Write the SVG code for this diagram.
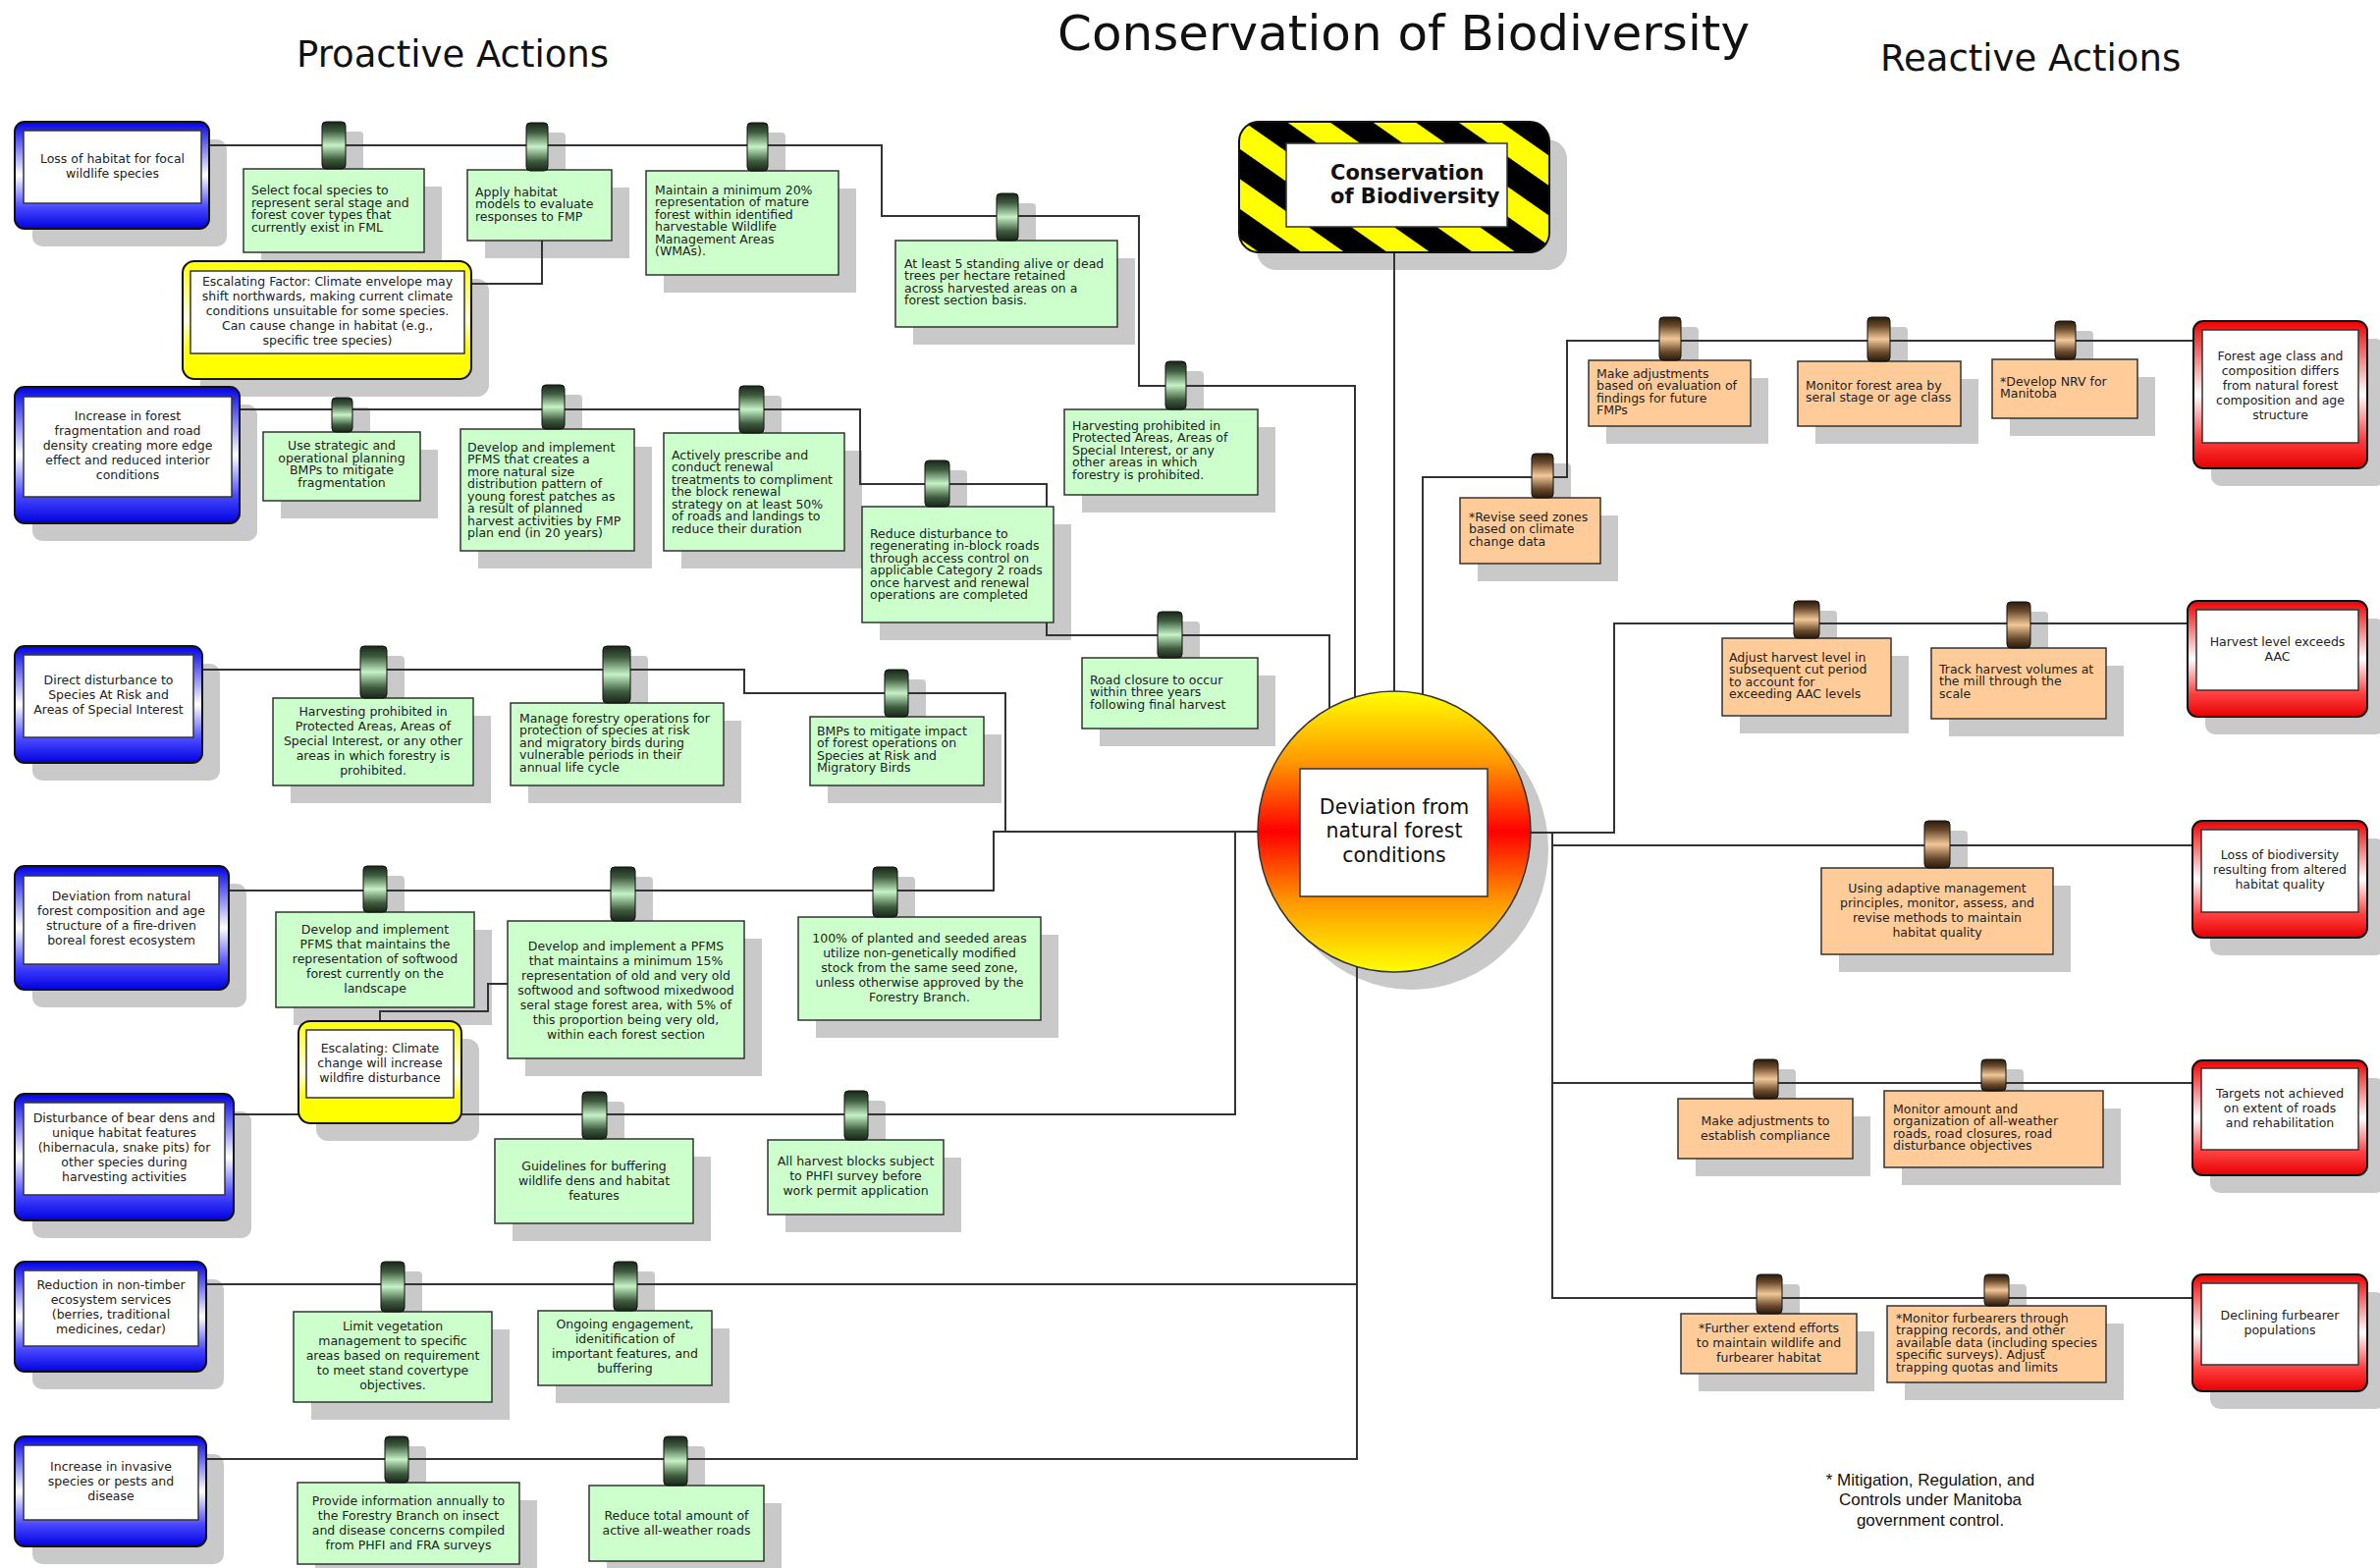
<svg xmlns="http://www.w3.org/2000/svg" width="2424" height="1597" viewBox="0 0 2424 1597">
<defs>
  <linearGradient id="gradBlue" x1="0" y1="0" x2="0" y2="1">
    <stop offset="0" stop-color="#0000e8"/>
    <stop offset="0.5" stop-color="#ffffff"/>
    <stop offset="0.8" stop-color="#4848ff"/>
    <stop offset="1" stop-color="#0000e0"/>
  </linearGradient>
  <linearGradient id="gradRed" x1="0" y1="0" x2="0" y2="1">
    <stop offset="0" stop-color="#ee0000"/>
    <stop offset="0.5" stop-color="#ffffff"/>
    <stop offset="0.8" stop-color="#ff4040"/>
    <stop offset="1" stop-color="#e60000"/>
  </linearGradient>
  <linearGradient id="gradYellow" x1="0" y1="0" x2="0" y2="1">
    <stop offset="0" stop-color="#ffff00"/>
    <stop offset="0.5" stop-color="#ffffe8"/>
    <stop offset="0.75" stop-color="#ffff00"/>
    <stop offset="1" stop-color="#ffff00"/>
  </linearGradient>
  <linearGradient id="gradClipGreen" x1="0" y1="0" x2="0" y2="1">
    <stop offset="0" stop-color="#1a261a"/>
    <stop offset="0.2" stop-color="#3e5c3e"/>
    <stop offset="0.5" stop-color="#c6f2c6"/>
    <stop offset="0.8" stop-color="#3e5c3e"/>
    <stop offset="1" stop-color="#1a261a"/>
  </linearGradient>
  <linearGradient id="gradClipTan" x1="0" y1="0" x2="0" y2="1">
    <stop offset="0" stop-color="#2a1a0c"/>
    <stop offset="0.2" stop-color="#6a4a2c"/>
    <stop offset="0.5" stop-color="#f2c898"/>
    <stop offset="0.8" stop-color="#6a4a2c"/>
    <stop offset="1" stop-color="#2a1a0c"/>
  </linearGradient>
  <linearGradient id="gradHub" x1="0" y1="0" x2="0" y2="1">
    <stop offset="0" stop-color="#ffff00"/>
    <stop offset="0.25" stop-color="#ff9900"/>
    <stop offset="0.5" stop-color="#ff0000"/>
    <stop offset="0.75" stop-color="#ff9900"/>
    <stop offset="1" stop-color="#ffff00"/>
  </linearGradient>
  <pattern id="hazard" patternUnits="userSpaceOnUse" width="50" height="50" patternTransform="rotate(-55)">
    <rect width="50" height="50" fill="#000"/>
    <rect width="25" height="50" fill="#ffff00"/>
  </pattern>
  <style>
    .sh{fill:#c9c9c9}
    .wire{fill:none;stroke:#333;stroke-width:2}
    .frame{stroke:#111;stroke-width:2}
    .blue{fill:url(#gradBlue)}
    .red{fill:url(#gradRed)}
    .yel{fill:url(#gradYellow)}
    .inner{fill:#fff;stroke:#333;stroke-width:1.5}
    .act{fill:#ccffcc;stroke:#333;stroke-width:1.5}
    .resp{fill:#ffcc99;stroke:#333;stroke-width:1.5}
    .clipG{fill:url(#gradClipGreen);stroke:#111;stroke-width:1}
    .clipT{fill:url(#gradClipTan);stroke:#111;stroke-width:1}
    text{font-family:"DejaVu Sans",Verdana,sans-serif;fill:#222}
    .s{font-size:12.5px}
    .c{text-anchor:middle}
    .h1{font-size:50px;fill:#111}
    .h2{font-size:37px;fill:#111}
    .hub{font-size:20.5px;fill:#111}
    .badge{font-size:21px;font-weight:bold;fill:#111}
    .note{font-family:"Liberation Sans",Arial,sans-serif;font-size:17px;fill:#111}
  </style>
</defs>
<rect width="2424" height="1597" fill="#fff"/>

<!-- headings -->
<g id="headings">
  <text class="h1" x="1077" y="51">Conservation of Biodiversity</text>
  <text class="h2" x="302" y="68">Proactive Actions</text>
  <text class="h2" x="1915" y="72">Reactive Actions</text>
</g>

<!-- drop shadows -->
<g id="shadows">
  <rect class="sh" x="33" y="142" width="198" height="109" rx="10"/>
  <rect class="sh" x="33" y="412" width="229" height="139" rx="10"/>
  <rect class="sh" x="33" y="676" width="191" height="119" rx="10"/>
  <rect class="sh" x="33" y="900" width="218" height="126" rx="10"/>
  <rect class="sh" x="33" y="1132" width="223" height="129" rx="10"/>
  <rect class="sh" x="33" y="1303" width="195" height="112" rx="10"/>
  <rect class="sh" x="33" y="1481" width="195" height="112" rx="10"/>
  <rect class="sh" x="204" y="284" width="294" height="120" rx="12"/>
  <rect class="sh" x="322" y="1058" width="166" height="104" rx="12"/>
  <rect class="sh" x="2252" y="345" width="177" height="150" rx="10"/>
  <rect class="sh" x="2246" y="630" width="183" height="118" rx="10"/>
  <rect class="sh" x="2251" y="854" width="178" height="119" rx="10"/>
  <rect class="sh" x="2251" y="1098" width="178" height="117" rx="10"/>
  <rect class="sh" x="2251" y="1316" width="178" height="119" rx="10"/>
  <rect class="sh" x="1280" y="142" width="316" height="133" rx="20"/>
  <ellipse class="sh" cx="1438" cy="865" rx="139" ry="143"/>
  <rect class="sh" x="266" y="190" width="184" height="85"/>
  <rect class="sh" x="494" y="191" width="147" height="72"/>
  <rect class="sh" x="676" y="192" width="196" height="106"/>
  <rect class="sh" x="930" y="263" width="226" height="88"/>
  <rect class="sh" x="1102" y="435" width="197" height="87"/>
  <rect class="sh" x="286" y="458" width="160" height="70"/>
  <rect class="sh" x="487" y="455" width="177" height="124"/>
  <rect class="sh" x="694" y="459" width="184" height="120"/>
  <rect class="sh" x="896" y="534" width="195" height="118"/>
  <rect class="sh" x="1120" y="688" width="179" height="72"/>
  <rect class="sh" x="296" y="729" width="204" height="89"/>
  <rect class="sh" x="538" y="734" width="217" height="84"/>
  <rect class="sh" x="843" y="748" width="177" height="70"/>
  <rect class="sh" x="299" y="947" width="202" height="97"/>
  <rect class="sh" x="535" y="956" width="241" height="140"/>
  <rect class="sh" x="831" y="952" width="247" height="105"/>
  <rect class="sh" x="522" y="1178" width="202" height="86"/>
  <rect class="sh" x="800" y="1179" width="179" height="76"/>
  <rect class="sh" x="317" y="1354" width="202" height="92"/>
  <rect class="sh" x="566" y="1353" width="177" height="76"/>
  <rect class="sh" x="321" y="1528" width="226" height="83"/>
  <rect class="sh" x="618" y="1531" width="178" height="77"/>
  <rect class="sh" x="1636" y="385" width="165" height="67"/>
  <rect class="sh" x="1849" y="386" width="166" height="66"/>
  <rect class="sh" x="2047" y="384" width="148" height="60"/>
  <rect class="sh" x="1505" y="525" width="143" height="67"/>
  <rect class="sh" x="1772" y="668" width="172" height="79"/>
  <rect class="sh" x="1985" y="678" width="178" height="72"/>
  <rect class="sh" x="1873" y="902" width="236" height="88"/>
  <rect class="sh" x="1727" y="1137" width="178" height="61"/>
  <rect class="sh" x="1937" y="1129" width="223" height="78"/>
  <rect class="sh" x="1730" y="1356" width="179" height="61"/>
  <rect class="sh" x="1940" y="1348" width="223" height="78"/>
  <!-- clip shadows -->
  <rect class="sh" x="346" y="134" width="24" height="48" rx="4"/>
  <rect class="sh" x="554" y="135" width="22" height="49" rx="4"/>
  <rect class="sh" x="779" y="135" width="21" height="49" rx="4"/>
  <rect class="sh" x="1033" y="207" width="22" height="48" rx="4"/>
  <rect class="sh" x="1205" y="378" width="21" height="49" rx="4"/>
  <rect class="sh" x="356" y="415" width="21" height="35" rx="4"/>
  <rect class="sh" x="570" y="402" width="23" height="45" rx="4"/>
  <rect class="sh" x="771" y="403" width="25" height="48" rx="4"/>
  <rect class="sh" x="960" y="479" width="25" height="47" rx="4"/>
  <rect class="sh" x="1197" y="633" width="25" height="47" rx="4"/>
  <rect class="sh" x="385" y="668" width="27" height="53" rx="4"/>
  <rect class="sh" x="632" y="668" width="28" height="58" rx="4"/>
  <rect class="sh" x="919" y="692" width="24" height="48" rx="4"/>
  <rect class="sh" x="388" y="892" width="24" height="47" rx="4"/>
  <rect class="sh" x="640" y="893" width="25" height="55" rx="4"/>
  <rect class="sh" x="907" y="893" width="25" height="51" rx="4"/>
  <rect class="sh" x="611" y="1122" width="25" height="48" rx="4"/>
  <rect class="sh" x="878" y="1121" width="24" height="50" rx="4"/>
  <rect class="sh" x="406" y="1295" width="24" height="51" rx="4"/>
  <rect class="sh" x="643" y="1295" width="24" height="50" rx="4"/>
  <rect class="sh" x="410" y="1473" width="24" height="47" rx="4"/>
  <rect class="sh" x="694" y="1473" width="24" height="50" rx="4"/>
  <rect class="sh" x="1708" y="333" width="22" height="44" rx="4"/>
  <rect class="sh" x="1920" y="333" width="23" height="45" rx="4"/>
  <rect class="sh" x="2111" y="337" width="21" height="39" rx="4"/>
  <rect class="sh" x="1578" y="472" width="22" height="45" rx="4"/>
  <rect class="sh" x="1845" y="622" width="26" height="38" rx="4"/>
  <rect class="sh" x="2062" y="623" width="24" height="47" rx="4"/>
  <rect class="sh" x="1978" y="846" width="26" height="48" rx="4"/>
  <rect class="sh" x="1804" y="1089" width="25" height="40" rx="4"/>
  <rect class="sh" x="2036" y="1089" width="25" height="32" rx="4"/>
  <rect class="sh" x="1807" y="1308" width="26" height="40" rx="4"/>
  <rect class="sh" x="2039" y="1308" width="25" height="32" rx="4"/>
</g>

<!-- connectors -->
<g id="connectors" class="wire">
  <path d="M213,148 H898 V220 H1160 V393 H1380 V715"/>
  <path d="M244,417 H876 V493 H1066 V647 H1354 V725"/>
  <path d="M206,682 H758 V706 H1024 V847"/>
  <path d="M233,907 H1012 V847 H1290"/>
  <path d="M238,1135 H1258 V847"/>
  <path d="M210,1308 H1382"/>
  <path d="M210,1486 H1382 V980"/>
  <path d="M552,245 V289 H480"/>
  <path d="M387,1040 V1030 H497 V1002 H517"/>
  <path d="M1420,257 V710"/>
  <path d="M2234,347 H1596 V486 H1449 V712"/>
  <path d="M2228,635 H1644 V848 H1550"/>
  <path d="M1581,848 V1322 H2233"/>
  <path d="M1581,861 H2233"/>
  <path d="M1581,1103 H2233"/>
</g>

<!-- central hub -->
<g id="hub-deviation">
  <ellipse cx="1420" cy="847" rx="139" ry="143" fill="url(#gradHub)" stroke="#333" stroke-width="1.5"/>
  <rect class="inner" x="1324" y="783" width="191" height="130"/>
  <text class="hub c" x="1420" y="829">Deviation from</text>
  <text class="hub c" x="1420" y="853">natural forest</text>
  <text class="hub c" x="1420" y="878">conditions</text>
</g>

<!-- value badge -->
<g id="badge-biodiversity">
  <rect x="1262" y="124" width="316" height="133" rx="20" fill="url(#hazard)" stroke="#111" stroke-width="2"/>
  <rect class="inner" x="1310" y="146" width="225" height="85"/>
  <text class="badge" x="1355" y="183">Conservation</text>
  <text class="badge" x="1355" y="207">of Biodiversity</text>
</g>

<!-- threats (proactive side) -->
<g id="threat-habitat-loss">
  <rect class="blue frame" x="15" y="124" width="198" height="109" rx="10"/>
  <rect class="inner" x="24" y="133" width="181" height="74"/>
  <text class="s c" x="114.5" y="165.5">Loss of habitat for focal</text>
  <text class="s c" x="114.5" y="180.5">wildlife species</text>
</g>
<g id="threat-fragmentation">
  <rect class="blue frame" x="15" y="394" width="229" height="139" rx="10"/>
  <rect class="inner" x="24" y="404" width="212" height="102"/>
  <text class="s c" x="130" y="427.5">Increase in forest</text>
  <text class="s c" x="130" y="442.5">fragmentation and road</text>
  <text class="s c" x="130" y="457.5">density creating more edge</text>
  <text class="s c" x="130" y="472.5">effect and reduced interior</text>
  <text class="s c" x="130" y="487.5">conditions</text>
</g>
<g id="threat-direct-disturbance">
  <rect class="blue frame" x="15" y="658" width="191" height="119" rx="10"/>
  <rect class="inner" x="24" y="667" width="173" height="84"/>
  <text class="s c" x="110.5" y="696.5">Direct disturbance to</text>
  <text class="s c" x="110.5" y="711.5">Species At Risk and</text>
  <text class="s c" x="110.5" y="726.5">Areas of Special Interest</text>
</g>
<g id="threat-composition">
  <rect class="blue frame" x="15" y="882" width="218" height="126" rx="10"/>
  <rect class="inner" x="24" y="892" width="199" height="90"/>
  <text class="s c" x="123.5" y="916.5">Deviation from natural</text>
  <text class="s c" x="123.5" y="931.5">forest composition and age</text>
  <text class="s c" x="123.5" y="946.5">structure of a fire-driven</text>
  <text class="s c" x="123.5" y="961.5">boreal forest ecosystem</text>
</g>
<g id="threat-dens">
  <rect class="blue frame" x="15" y="1114" width="223" height="129" rx="10"/>
  <rect class="inner" x="24" y="1123" width="205" height="94"/>
  <text class="s c" x="126.5" y="1142.5">Disturbance of bear dens and</text>
  <text class="s c" x="126.5" y="1157.5">unique habitat features</text>
  <text class="s c" x="126.5" y="1172.5">(hibernacula, snake pits) for</text>
  <text class="s c" x="126.5" y="1187.5">other species during</text>
  <text class="s c" x="126.5" y="1202.5">harvesting activities</text>
</g>
<g id="threat-non-timber">
  <rect class="blue frame" x="15" y="1285" width="195" height="112" rx="10"/>
  <rect class="inner" x="24" y="1294" width="178" height="77"/>
  <text class="s c" x="113" y="1312.5">Reduction in non-timber</text>
  <text class="s c" x="113" y="1327.5">ecosystem services</text>
  <text class="s c" x="113" y="1342.5">(berries, traditional</text>
  <text class="s c" x="113" y="1357.5">medicines, cedar)</text>
</g>
<g id="threat-invasive">
  <rect class="blue frame" x="15" y="1463" width="195" height="112" rx="10"/>
  <rect class="inner" x="24" y="1472" width="178" height="76"/>
  <text class="s c" x="113" y="1497.5">Increase in invasive</text>
  <text class="s c" x="113" y="1512.5">species or pests and</text>
  <text class="s c" x="113" y="1527.5">disease</text>
</g>

<!-- escalating factors -->
<g id="escalating-climate-envelope">
  <rect class="yel frame" x="186" y="266" width="294" height="120" rx="12"/>
  <rect class="inner" x="194" y="276" width="279" height="84"/>
  <text class="s c" x="333.5" y="290.5">Escalating Factor: Climate envelope may</text>
  <text class="s c" x="333.5" y="305.5">shift northwards, making current climate</text>
  <text class="s c" x="333.5" y="320.5">conditions unsuitable for some species.</text>
  <text class="s c" x="333.5" y="335.5">Can cause change in habitat (e.g.,</text>
  <text class="s c" x="333.5" y="350.5">specific tree species)</text>
</g>
<g id="escalating-wildfire">
  <rect class="yel frame" x="304" y="1040" width="166" height="104" rx="12"/>
  <rect class="inner" x="312" y="1049" width="150" height="69"/>
  <text class="s c" x="387" y="1071.5">Escalating: Climate</text>
  <text class="s c" x="387" y="1086.5">change will increase</text>
  <text class="s c" x="387" y="1101.5">wildfire disturbance</text>
</g>

<!-- proactive actions -->
<g id="act-focal-species">
  <rect class="act" x="248" y="172" width="184" height="85"/>
  <rect class="clipG" x="328" y="124" width="24" height="48" rx="4"/>
  <text class="s" x="256" y="198">Select focal species to</text>
  <text class="s" x="256" y="210.5">represent seral stage and</text>
  <text class="s" x="256" y="223">forest cover types that</text>
  <text class="s" x="256" y="235.5">currently exist in FML</text>
</g>
<g id="act-habitat-models">
  <rect class="act" x="476" y="173" width="147" height="72"/>
  <rect class="clipG" x="536" y="125" width="22" height="49" rx="4"/>
  <text class="s" x="484" y="199.5">Apply habitat</text>
  <text class="s" x="484" y="212">models to evaluate</text>
  <text class="s" x="484" y="224.5">responses to FMP</text>
</g>
<g id="act-mature-forest">
  <rect class="act" x="658" y="174" width="196" height="106"/>
  <rect class="clipG" x="761" y="125" width="21" height="49" rx="4"/>
  <text class="s" x="667" y="197.5">Maintain a minimum 20%</text>
  <text class="s" x="667" y="210">representation of mature</text>
  <text class="s" x="667" y="222.5">forest within identified</text>
  <text class="s" x="667" y="235">harvestable Wildlife</text>
  <text class="s" x="667" y="247.5">Management Areas</text>
  <text class="s" x="667" y="260">(WMAs).</text>
</g>
<g id="act-standing-trees">
  <rect class="act" x="912" y="245" width="226" height="88"/>
  <rect class="clipG" x="1015" y="197" width="22" height="48" rx="4"/>
  <text class="s" x="921" y="272.5">At least 5 standing alive or dead</text>
  <text class="s" x="921" y="285">trees per hectare retained</text>
  <text class="s" x="921" y="297.5">across harvested areas on a</text>
  <text class="s" x="921" y="310">forest section basis.</text>
</g>
<g id="act-protected-areas-1">
  <rect class="act" x="1084" y="417" width="197" height="87"/>
  <rect class="clipG" x="1187" y="368" width="21" height="49" rx="4"/>
  <text class="s" x="1092" y="437.5">Harvesting prohibited in</text>
  <text class="s" x="1092" y="450">Protected Areas, Areas of</text>
  <text class="s" x="1092" y="462.5">Special Interest, or any</text>
  <text class="s" x="1092" y="475">other areas in which</text>
  <text class="s" x="1092" y="487.5">forestry is prohibited.</text>
</g>
<g id="act-planning-bmps">
  <rect class="act" x="268" y="440" width="160" height="70"/>
  <rect class="clipG" x="338" y="405" width="21" height="35" rx="4"/>
  <text class="s c" x="348" y="458">Use strategic and</text>
  <text class="s c" x="348" y="470.5">operational planning</text>
  <text class="s c" x="348" y="483">BMPs to mitigate</text>
  <text class="s c" x="348" y="495.5">fragmentation</text>
</g>
<g id="act-patch-size">
  <rect class="act" x="469" y="437" width="177" height="124"/>
  <rect class="clipG" x="552" y="392" width="23" height="45" rx="4"/>
  <text class="s" x="476" y="459.5">Develop and implement</text>
  <text class="s" x="476" y="472">PFMS that creates a</text>
  <text class="s" x="476" y="484.5">more natural size</text>
  <text class="s" x="476" y="497">distribution pattern of</text>
  <text class="s" x="476" y="509.5">young forest patches as</text>
  <text class="s" x="476" y="522">a result of planned</text>
  <text class="s" x="476" y="534.5">harvest activities by FMP</text>
  <text class="s" x="476" y="547">plan end (in 20 years)</text>
</g>
<g id="act-renewal">
  <rect class="act" x="676" y="441" width="184" height="120"/>
  <rect class="clipG" x="753" y="393" width="25" height="48" rx="4"/>
  <text class="s" x="684" y="467.5">Actively prescribe and</text>
  <text class="s" x="684" y="480">conduct renewal</text>
  <text class="s" x="684" y="492.5">treatments to compliment</text>
  <text class="s" x="684" y="505">the block renewal</text>
  <text class="s" x="684" y="517.5">strategy on at least 50%</text>
  <text class="s" x="684" y="530">of roads and landings to</text>
  <text class="s" x="684" y="542.5">reduce their duration</text>
</g>
<g id="act-access-control">
  <rect class="act" x="878" y="516" width="195" height="118"/>
  <rect class="clipG" x="942" y="469" width="25" height="47" rx="4"/>
  <text class="s" x="886" y="547.5">Reduce disturbance to</text>
  <text class="s" x="886" y="560">regenerating in-block roads</text>
  <text class="s" x="886" y="572.5">through access control on</text>
  <text class="s" x="886" y="585">applicable Category 2 roads</text>
  <text class="s" x="886" y="597.5">once harvest and renewal</text>
  <text class="s" x="886" y="610">operations are completed</text>
</g>
<g id="act-road-closure">
  <rect class="act" x="1102" y="670" width="179" height="72"/>
  <rect class="clipG" x="1179" y="623" width="25" height="47" rx="4"/>
  <text class="s" x="1110" y="696.5">Road closure to occur</text>
  <text class="s" x="1110" y="709">within three years</text>
  <text class="s" x="1110" y="721.5">following final harvest</text>
</g>
<g id="act-protected-areas-2">
  <rect class="act" x="278" y="711" width="204" height="89"/>
  <rect class="clipG" x="367" y="658" width="27" height="53" rx="4"/>
  <text class="s c" x="380" y="728.5">Harvesting prohibited in</text>
  <text class="s c" x="380" y="743.5">Protected Areas, Areas of</text>
  <text class="s c" x="380" y="758.5">Special Interest, or any other</text>
  <text class="s c" x="380" y="773.5">areas in which forestry is</text>
  <text class="s c" x="380" y="788.5">prohibited.</text>
</g>
<g id="act-vulnerable-periods">
  <rect class="act" x="520" y="716" width="217" height="84"/>
  <rect class="clipG" x="614" y="658" width="28" height="58" rx="4"/>
  <text class="s" x="529" y="735.5">Manage forestry operations for</text>
  <text class="s" x="529" y="748">protection of species at risk</text>
  <text class="s" x="529" y="760.5">and migratory birds during</text>
  <text class="s" x="529" y="773">vulnerable periods in their</text>
  <text class="s" x="529" y="785.5">annual life cycle</text>
</g>
<g id="act-sar-bmps">
  <rect class="act" x="825" y="730" width="177" height="70"/>
  <rect class="clipG" x="901" y="682" width="24" height="48" rx="4"/>
  <text class="s" x="832" y="748.5">BMPs to mitigate impact</text>
  <text class="s" x="832" y="761">of forest operations on</text>
  <text class="s" x="832" y="773.5">Species at Risk and</text>
  <text class="s" x="832" y="786">Migratory Birds</text>
</g>
<g id="act-softwood">
  <rect class="act" x="281" y="929" width="202" height="97"/>
  <rect class="clipG" x="370" y="882" width="24" height="47" rx="4"/>
  <text class="s c" x="382" y="950.5">Develop and implement</text>
  <text class="s c" x="382" y="965.5">PFMS that maintains the</text>
  <text class="s c" x="382" y="980.5">representation of softwood</text>
  <text class="s c" x="382" y="995.5">forest currently on the</text>
  <text class="s c" x="382" y="1010.5">landscape</text>
</g>
<g id="act-old-growth">
  <rect class="act" x="517" y="938" width="241" height="140"/>
  <rect class="clipG" x="622" y="883" width="25" height="55" rx="4"/>
  <text class="s c" x="637.5" y="967.5">Develop and implement a PFMS</text>
  <text class="s c" x="637.5" y="982.5">that maintains a minimum 15%</text>
  <text class="s c" x="637.5" y="997.5">representation of old and very old</text>
  <text class="s c" x="637.5" y="1012.5">softwood and softwood mixedwood</text>
  <text class="s c" x="637.5" y="1027.5">seral stage forest area, with 5% of</text>
  <text class="s c" x="637.5" y="1042.5">this proportion being very old,</text>
  <text class="s c" x="637.5" y="1057.5">within each forest section</text>
</g>
<g id="act-seed-stock">
  <rect class="act" x="813" y="934" width="247" height="105"/>
  <rect class="clipG" x="889" y="883" width="25" height="51" rx="4"/>
  <text class="s c" x="936.5" y="959.5">100% of planted and seeded areas</text>
  <text class="s c" x="936.5" y="974.5">utilize non-genetically modified</text>
  <text class="s c" x="936.5" y="989.5">stock from the same seed zone,</text>
  <text class="s c" x="936.5" y="1004.5">unless otherwise approved by the</text>
  <text class="s c" x="936.5" y="1019.5">Forestry Branch.</text>
</g>
<g id="act-den-buffers">
  <rect class="act" x="504" y="1160" width="202" height="86"/>
  <rect class="clipG" x="593" y="1112" width="25" height="48" rx="4"/>
  <text class="s c" x="605" y="1191.5">Guidelines for buffering</text>
  <text class="s c" x="605" y="1206.5">wildlife dens and habitat</text>
  <text class="s c" x="605" y="1221.5">features</text>
</g>
<g id="act-phfi-survey">
  <rect class="act" x="782" y="1161" width="179" height="76"/>
  <rect class="clipG" x="860" y="1111" width="24" height="50" rx="4"/>
  <text class="s c" x="871.5" y="1186.5">All harvest blocks subject</text>
  <text class="s c" x="871.5" y="1201.5">to PHFI survey before</text>
  <text class="s c" x="871.5" y="1216.5">work permit application</text>
</g>
<g id="act-vegetation">
  <rect class="act" x="299" y="1336" width="202" height="92"/>
  <rect class="clipG" x="388" y="1285" width="24" height="51" rx="4"/>
  <text class="s c" x="400" y="1354.5">Limit vegetation</text>
  <text class="s c" x="400" y="1369.5">management to specific</text>
  <text class="s c" x="400" y="1384.5">areas based on requirement</text>
  <text class="s c" x="400" y="1399.5">to meet stand covertype</text>
  <text class="s c" x="400" y="1414.5">objectives.</text>
</g>
<g id="act-engagement">
  <rect class="act" x="548" y="1335" width="177" height="76"/>
  <rect class="clipG" x="625" y="1285" width="24" height="50" rx="4"/>
  <text class="s c" x="636.5" y="1352.5">Ongoing engagement,</text>
  <text class="s c" x="636.5" y="1367.5">idenitification of</text>
  <text class="s c" x="636.5" y="1382.5">important features, and</text>
  <text class="s c" x="636.5" y="1397.5">buffering</text>
</g>
<g id="act-pest-reporting">
  <rect class="act" x="303" y="1510" width="226" height="83"/>
  <rect class="clipG" x="392" y="1463" width="24" height="47" rx="4"/>
  <text class="s c" x="416" y="1532.5">Provide information annually to</text>
  <text class="s c" x="416" y="1547.5">the Forestry Branch on insect</text>
  <text class="s c" x="416" y="1562.5">and disease concerns compiled</text>
  <text class="s c" x="416" y="1577.5">from PHFI and FRA surveys</text>
</g>
<g id="act-road-reduction">
  <rect class="act" x="600" y="1513" width="178" height="77"/>
  <rect class="clipG" x="676" y="1463" width="24" height="50" rx="4"/>
  <text class="s c" x="689" y="1547.5">Reduce total amount of</text>
  <text class="s c" x="689" y="1562.5">active all-weather roads</text>
</g>

<!-- consequences (reactive side) -->
<g id="cons-age-class">
  <rect class="red frame" x="2234" y="327" width="177" height="150" rx="10"/>
  <rect class="inner" x="2243" y="336" width="159" height="115"/>
  <text class="s c" x="2322.5" y="366.5">Forest age class and</text>
  <text class="s c" x="2322.5" y="381.5">composition differs</text>
  <text class="s c" x="2322.5" y="396.5">from natural forest</text>
  <text class="s c" x="2322.5" y="411.5">composition and age</text>
  <text class="s c" x="2322.5" y="426.5">structure</text>
</g>
<g id="cons-aac">
  <rect class="red frame" x="2228" y="612" width="183" height="118" rx="10"/>
  <rect class="inner" x="2237" y="621" width="165" height="82"/>
  <text class="s c" x="2319.5" y="657.5">Harvest level exceeds</text>
  <text class="s c" x="2319.5" y="672.5">AAC</text>
</g>
<g id="cons-biodiversity-loss">
  <rect class="red frame" x="2233" y="836" width="178" height="119" rx="10"/>
  <rect class="inner" x="2242" y="845" width="160" height="84"/>
  <text class="s c" x="2322" y="874.5">Loss of biodiversity</text>
  <text class="s c" x="2322" y="889.5">resulting from altered</text>
  <text class="s c" x="2322" y="904.5">habitat quality</text>
</g>
<g id="cons-road-targets">
  <rect class="red frame" x="2233" y="1080" width="178" height="117" rx="10"/>
  <rect class="inner" x="2242" y="1088" width="160" height="83"/>
  <text class="s c" x="2322" y="1117.5">Targets not achieved</text>
  <text class="s c" x="2322" y="1132.5">on extent of roads</text>
  <text class="s c" x="2322" y="1147.5">and rehabilitation</text>
</g>
<g id="cons-furbearers">
  <rect class="red frame" x="2233" y="1298" width="178" height="119" rx="10"/>
  <rect class="inner" x="2242" y="1307" width="160" height="83"/>
  <text class="s c" x="2322" y="1343.5">Declining furbearer</text>
  <text class="s c" x="2322" y="1358.5">populations</text>
</g>

<!-- reactive actions -->
<g id="resp-fmp-adjust">
  <rect class="resp" x="1618" y="367" width="165" height="67"/>
  <rect class="clipT" x="1690" y="323" width="22" height="44" rx="4"/>
  <text class="s" x="1626" y="384.5">Make adjustments</text>
  <text class="s" x="1626" y="397">based on evaluation of</text>
  <text class="s" x="1626" y="409.5">findings for future</text>
  <text class="s" x="1626" y="422">FMPs</text>
</g>
<g id="resp-monitor-seral">
  <rect class="resp" x="1831" y="368" width="166" height="66"/>
  <rect class="clipT" x="1902" y="323" width="23" height="45" rx="4"/>
  <text class="s" x="1839" y="396.5">Monitor forest area by</text>
  <text class="s" x="1839" y="409">seral stage or age class</text>
</g>
<g id="resp-nrv">
  <rect class="resp" x="2029" y="366" width="148" height="60"/>
  <rect class="clipT" x="2093" y="327" width="21" height="39" rx="4"/>
  <text class="s" x="2037" y="392.5">*Develop NRV for</text>
  <text class="s" x="2037" y="405">Manitoba</text>
</g>
<g id="resp-seed-zones">
  <rect class="resp" x="1487" y="507" width="143" height="67"/>
  <rect class="clipT" x="1560" y="462" width="22" height="45" rx="4"/>
  <text class="s" x="1496" y="530.5">*Revise seed zones</text>
  <text class="s" x="1496" y="543">based on climate</text>
  <text class="s" x="1496" y="555.5">change data</text>
</g>
<g id="resp-harvest-adjust">
  <rect class="resp" x="1754" y="650" width="172" height="79"/>
  <rect class="clipT" x="1827" y="612" width="26" height="38" rx="4"/>
  <text class="s" x="1761" y="673.5">Adjust harvest level in</text>
  <text class="s" x="1761" y="686">subsequent cut period</text>
  <text class="s" x="1761" y="698.5">to account for</text>
  <text class="s" x="1761" y="711">exceeding AAC levels</text>
</g>
<g id="resp-mill-scale">
  <rect class="resp" x="1967" y="660" width="178" height="72"/>
  <rect class="clipT" x="2044" y="613" width="24" height="47" rx="4"/>
  <text class="s" x="1975" y="685.5">Track harvest volumes at</text>
  <text class="s" x="1975" y="698">the mill through the</text>
  <text class="s" x="1975" y="710.5">scale</text>
</g>
<g id="resp-adaptive">
  <rect class="resp" x="1855" y="884" width="236" height="88"/>
  <rect class="clipT" x="1960" y="836" width="26" height="48" rx="4"/>
  <text class="s c" x="1973" y="908.5">Using adaptive management</text>
  <text class="s c" x="1973" y="923.5">principles, monitor, assess, and</text>
  <text class="s c" x="1973" y="938.5">revise methods to maintain</text>
  <text class="s c" x="1973" y="953.5">habitat quality</text>
</g>
<g id="resp-compliance">
  <rect class="resp" x="1709" y="1119" width="178" height="61"/>
  <rect class="clipT" x="1786" y="1079" width="25" height="40" rx="4"/>
  <text class="s c" x="1798" y="1145.5">Make adjustments to</text>
  <text class="s c" x="1798" y="1160.5">establish compliance</text>
</g>
<g id="resp-road-monitoring">
  <rect class="resp" x="1919" y="1111" width="223" height="78"/>
  <rect class="clipT" x="2018" y="1079" width="25" height="32" rx="4"/>
  <text class="s" x="1928" y="1133.5">Monitor amount and</text>
  <text class="s" x="1928" y="1146">organization of all-weather</text>
  <text class="s" x="1928" y="1158.5">roads, road closures, road</text>
  <text class="s" x="1928" y="1171">disturbance objectives</text>
</g>
<g id="resp-furbearer-habitat">
  <rect class="resp" x="1712" y="1338" width="179" height="61"/>
  <rect class="clipT" x="1789" y="1298" width="26" height="40" rx="4"/>
  <text class="s c" x="1801.5" y="1356.5">*Further extend efforts</text>
  <text class="s c" x="1801.5" y="1371.5">to maintain wildlife and</text>
  <text class="s c" x="1801.5" y="1386.5">furbearer habitat</text>
</g>
<g id="resp-trapping">
  <rect class="resp" x="1922" y="1330" width="223" height="78"/>
  <rect class="clipT" x="2021" y="1298" width="25" height="32" rx="4"/>
  <text class="s" x="1931" y="1346.5">*Monitor furbearers through</text>
  <text class="s" x="1931" y="1359">trapping records, and other</text>
  <text class="s" x="1931" y="1371.5">available data (including species</text>
  <text class="s" x="1931" y="1384">specific surveys). Adjust</text>
  <text class="s" x="1931" y="1396.5">trapping quotas and limits</text>
</g>

<!-- footnote -->
<g id="footnote">
  <text class="note c" x="1966" y="1513">* Mitigation, Regulation, and</text>
  <text class="note c" x="1966" y="1533">Controls under Manitoba</text>
  <text class="note c" x="1966" y="1554">government control.</text>
</g>
</svg>
